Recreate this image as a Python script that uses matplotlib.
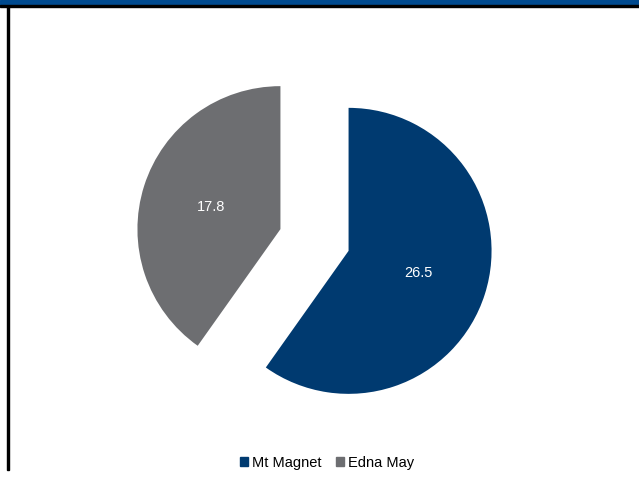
import matplotlib
matplotlib.use("Agg")
import matplotlib.pyplot as plt
from matplotlib.patches import Rectangle

labels = ["Mt Magnet", "Edna May"]
values = [26.5, 17.8]
colors = ["#003A70", "#6D6E71"]

plt.rcParams['font.family'] = ['Liberation Sans', 'DejaVu Sans']

fig = plt.figure(figsize=(6.39, 4.79), dpi=100)
W, H = 639, 479

# Frame decorations
fig.patches.append(Rectangle((0, (H - 5) / H), 1, 5 / H, transform=fig.transFigure,
                             color="#004A8F", zorder=0))
fig.patches.append(Rectangle((0, (H - 7) / H), 1, 2 / H, transform=fig.transFigure,
                             color="black", zorder=0))
fig.patches.append(Rectangle((7 / W, 9 / H), 2 / W, (H - 16) / H, transform=fig.transFigure,
                             color="black", zorder=0))

R = 143.0
side = 400.0
cx, cy = 314.5, 239.0
ax = fig.add_axes([(cx - side / 2) / W, (cy - side / 2) / H, side / W, side / H])
L = side / 2 / R
ax.set_xlim(-L, L)
ax.set_ylim(-L, L)
ax.set_aspect('equal')
ax.axis('off')

wedges, texts, autotexts = ax.pie(
    values, colors=colors, startangle=90, counterclock=False,
    explode=[0.25, 0.25], radius=1.0,
    autopct=lambda p: f"{p * sum(values) / 100:.1f}", pctdistance=0.51,
    textprops=dict(color="white", fontsize=10.5),
)
ax.set_xlim(-L, L)
ax.set_ylim(-L, L)

handles = [Rectangle((0, 0), 1, 1, color=c) for c in colors]
fig.legend(handles, labels, loc="center", bbox_to_anchor=(327 / W, 1 - 463 / H),
           ncol=2, frameon=False, fontsize=10.5, handlelength=0.55, handleheight=0.55,
           handletextpad=0.25, columnspacing=1.0, borderpad=0, borderaxespad=0)

fig.savefig("out.png", dpi=100)
